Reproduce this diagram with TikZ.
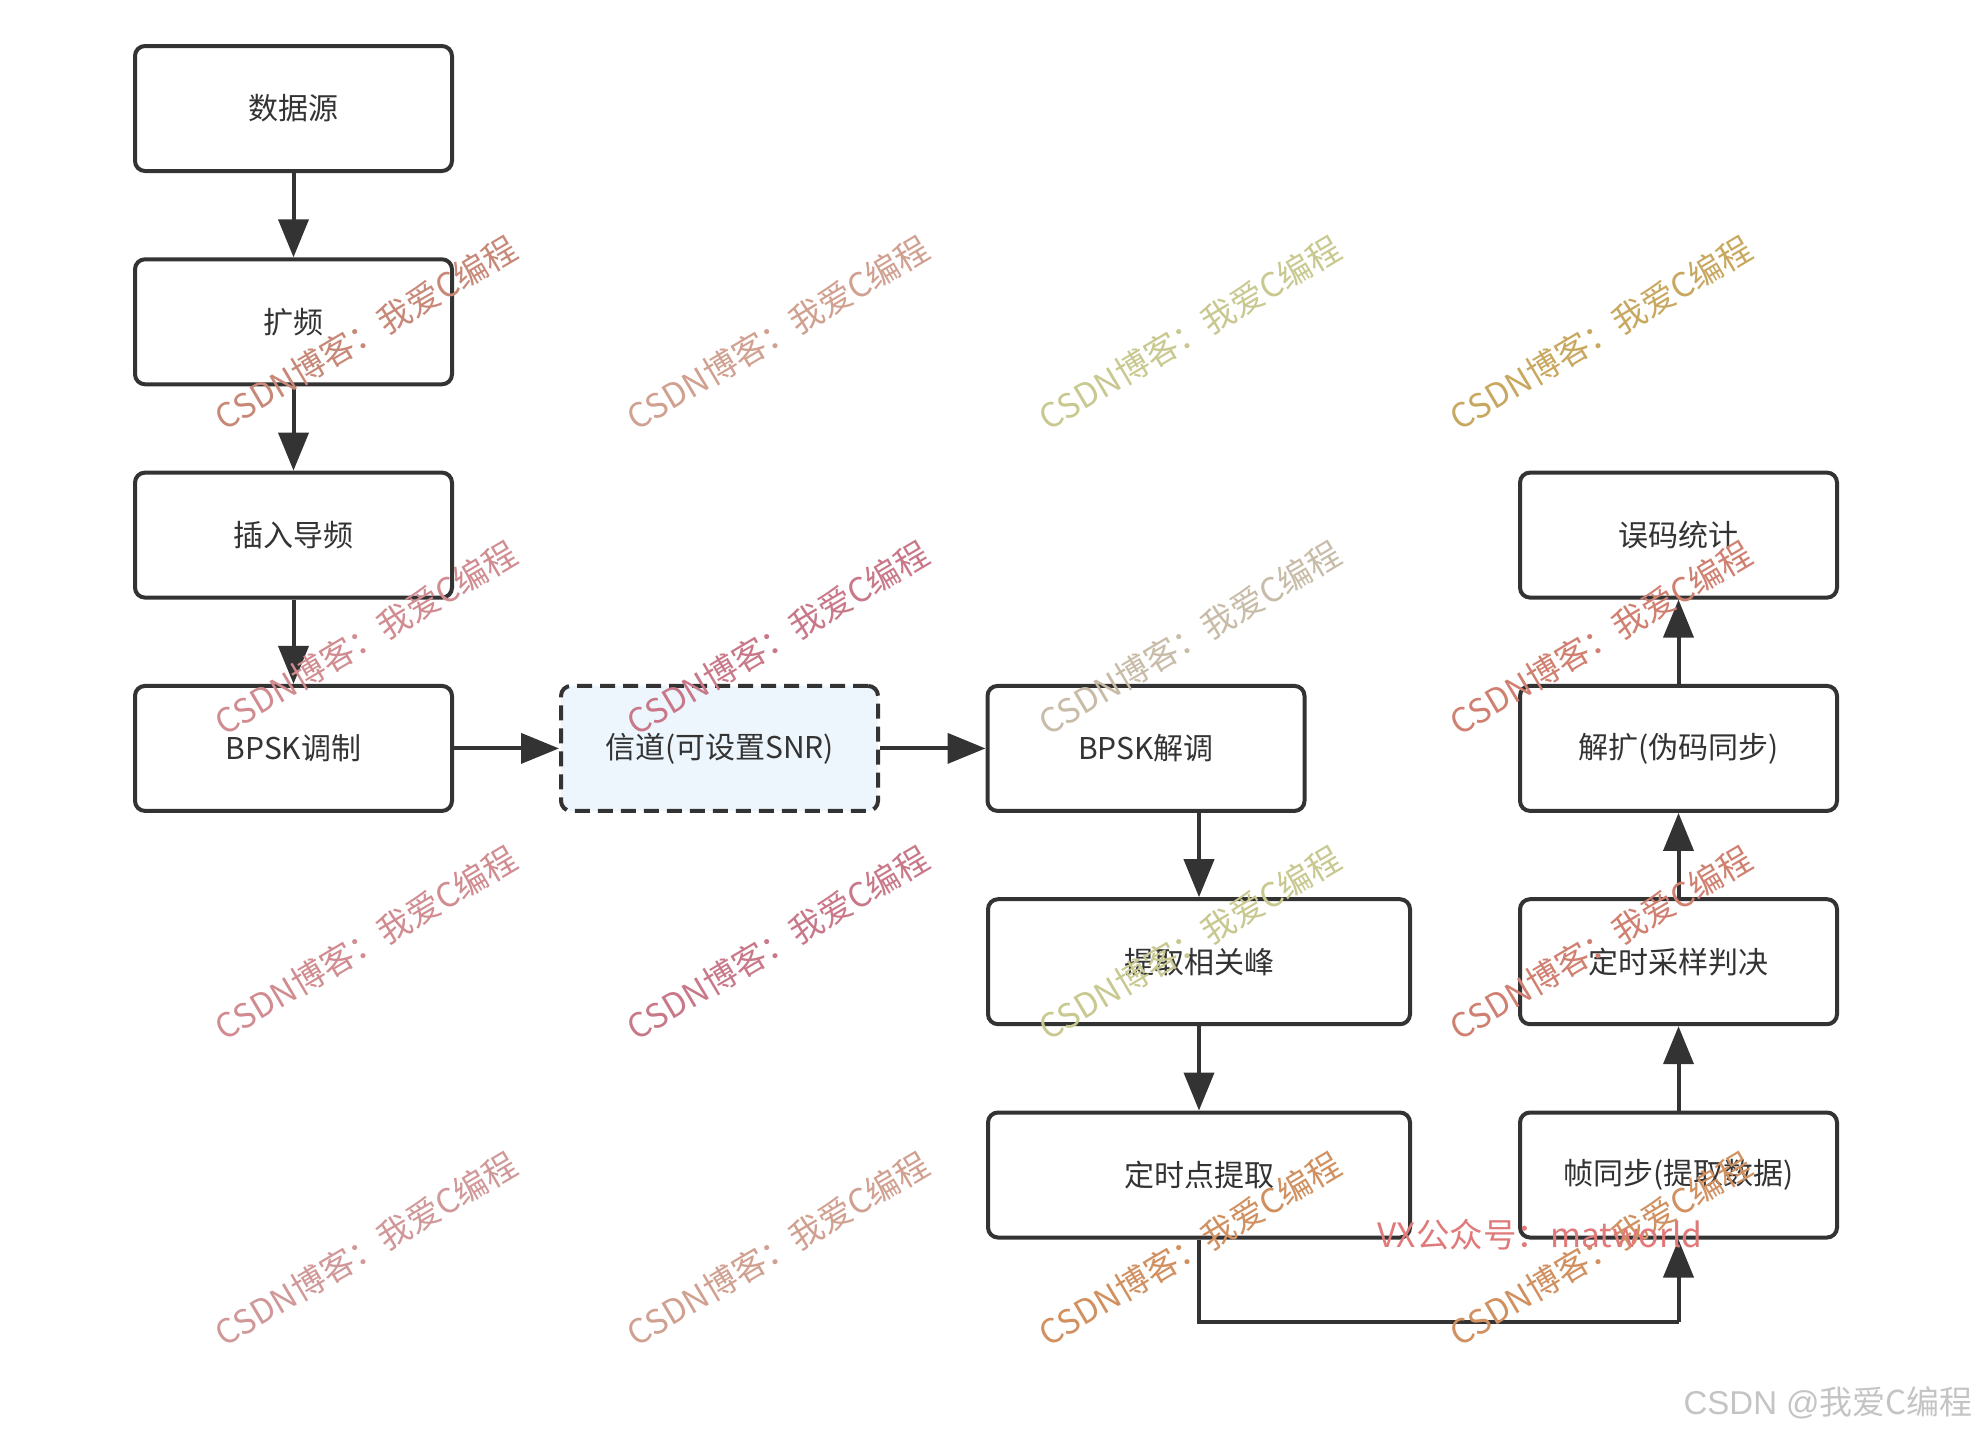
\documentclass[tikz,border=0pt]{standalone}
\usepackage{fontspec}
\setmainfont{Noto Sans CJK SC}
\newfontfamily\latinsans{Liberation Sans}
\usetikzlibrary{arrows.meta}
\definecolor{ln}{HTML}{333333}
\definecolor{chanfill}{HTML}{EEF6FD}
\definecolor{wmA}{HTML}{C88878}
\definecolor{wmB}{HTML}{D0A090}
\definecolor{wmC}{HTML}{C8C890}
\definecolor{wmD}{HTML}{C8A860}
\definecolor{wmE}{HTML}{D08C90}
\definecolor{wmF}{HTML}{C8BCA8}
\definecolor{wmG}{HTML}{D08070}
\definecolor{wmH}{HTML}{C87888}
\definecolor{wmI}{HTML}{D09060}
\definecolor{wmJ}{HTML}{D09898}
\definecolor{vx}{HTML}{E07A7A}
\definecolor{sig}{HTML}{C4C4C4}
\begin{document}
\begin{tikzpicture}[x=1pt,y=-1pt,
  box/.style={draw=ln, line width=4pt, rounded corners=10pt, fill=white,
    minimum width=317pt, minimum height=125pt, inner sep=0pt,
    font=\fontsize{30}{35}\selectfont, text=ln},
  widebox/.style={box, minimum width=422pt},
  chanbox/.style={box, dash pattern=on 15pt off 8pt, fill=chanfill},
  arr/.style={draw=ln, line width=4pt, -{Triangle[length=38pt,width=30pt]}},
  flow/.style={draw=ln, line width=4pt},
  wm/.style={rotate=30.6, inner sep=0pt, font=\fontsize{33.5}{38}\selectfont}
]
\useasboundingbox (0,0) rectangle (1977,1438);

% column 1
\node[box] (src) at (293.5,108.5) {数据源};
\node[box] (spread) at (293.5,321.8) {扩频};
\node[box] (pilot) at (293.5,535.1) {插入导频};
\node[box] (mod) at (293.5,748.4) {BPSK调制};
% channel
\node[chanbox] (chan) at (719.5,748.4) {信道(可设置SNR)};
% column 3
\node[box] (demod) at (1146,748.4) {BPSK解调};
\node[widebox] (peak) at (1199,961.7) {提取相关峰};
\node[widebox] (timing) at (1199,1175) {定时点提取};
% column 4
\node[box] (ber) at (1678.5,535.1) {误码统计};
\node[box] (despread) at (1678.5,748.4) {解扩(伪码同步)};
\node[box] (sample) at (1678.5,961.7) {定时采样判决};
\node[box] (frame) at (1678.5,1175) {帧同步(提取数据)};

\coordinate (loopL) at (1199,1322);
\coordinate (loopR) at (1678.5,1322);

% connectors
\draw[arr] (src) -- (spread);
\draw[arr] (spread) -- (pilot);
\draw[arr] (pilot) -- (mod);
\draw[arr] (mod) -- (chan);
\draw[arr] (chan) -- (demod);
\draw[arr] (peak.north |- demod.south) -- (peak.north);
\draw[arr] (peak) -- (timing);
\draw[flow] (timing.south) -- (loopL) -- (loopR);
\draw[arr] (loopR) -- (frame.south);
\draw[arr] (frame) -- (sample);
\draw[arr] (sample) -- (despread);
\draw[arr] (despread) -- (ber);

% watermarks
\node[wm, text=wmA] (w11) at (366,333) {CSDN博客：我爱C编程};
\node[wm, text=wmB] (w12) at (778,333) {CSDN博客：我爱C编程};
\node[wm, text=wmC] (w13) at (1190,333) {CSDN博客：我爱C编程};
\node[wm, text=wmD] (w14) at (1601,333) {CSDN博客：我爱C编程};
\node[wm, text=wmE] (w21) at (366,638) {CSDN博客：我爱C编程};
\node[wm, text=wmH] (w22) at (778,638) {CSDN博客：我爱C编程};
\node[wm, text=wmF] (w23) at (1190,638) {CSDN博客：我爱C编程};
\node[wm, text=wmG] (w24) at (1601,638) {CSDN博客：我爱C编程};
\node[wm, text=wmE] (w31) at (366,943) {CSDN博客：我爱C编程};
\node[wm, text=wmH] (w32) at (778,943) {CSDN博客：我爱C编程};
\node[wm, text=wmC] (w33) at (1190,943) {CSDN博客：我爱C编程};
\node[wm, text=wmG] (w34) at (1601,943) {CSDN博客：我爱C编程};
\node[wm, text=wmJ] (w41) at (366,1249) {CSDN博客：我爱C编程};
\node[wm, text=wmB] (w42) at (778,1249) {CSDN博客：我爱C编程};
\node[wm, text=wmI] (w43) at (1190,1249) {CSDN博客：我爱C编程};
\node[wm, text=wmI] (w44) at (1601,1249) {CSDN博客：我爱C编程};

\node[text=vx, inner sep=0pt, font=\fontsize{33.5}{38}\selectfont] (vxlabel) at (1540,1235) {VX公众号：matworld};
\node[text=sig, inner sep=0pt, anchor=east, font=\fontsize{33}{38}\selectfont] (sign) at (1973,1403) {{\latinsans CSDN @}我爱C编程};
\end{tikzpicture}
\end{document}
